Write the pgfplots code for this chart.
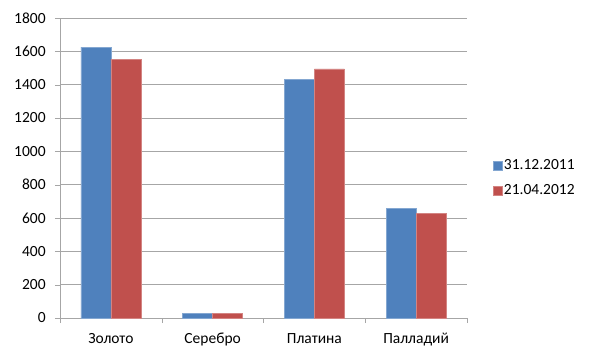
\documentclass[border=0pt]{standalone}
\usepackage{pgfplots}
\pgfplotsset{compat=1.18}
\usepackage{fontspec}
\setmainfont{Carlito}
\definecolor{sblue}{HTML}{4F81BD}
\definecolor{sred}{HTML}{C0504D}
\definecolor{gridg}{HTML}{A6A6A6}
\begin{document}
\fontsize{15.5bp}{18bp}\selectfont
\begin{tikzpicture}[x=1bp,y=1bp]
\path[use as bounding box] (0,0) rectangle (600,360);
\begin{axis}[
  at={(60bp,42bp)}, anchor=south west,
  scale only axis, width=407bp, height=300bp,
  ybar=0pt, bar width=30bp,
  xmin=-0.5, xmax=3.5, ymin=0, ymax=1800,
  ytick={0,200,...,1800},
  xtick={0,1,2,3},
  xticklabels={Золото,Серебро,Платина,Палладий},
  minor xtick={-0.5,0.5,1.5,2.5,3.5},
  major x tick style={draw=none},
  minor x tick style={gridg},
  tick align=outside,
  minor tick length=5bp,
  major tick length=5bp,
  y tick style={gridg},
  ymajorgrids, grid style={gridg, line width=0.8bp},
  axis x line*=bottom, axis y line*=left,
  axis line style={gridg, line width=0.8bp, -},
  /pgf/number format/assume math mode=true,
  /pgf/number format/1000 sep={},
  ticklabel style={font=\fontsize{15.5bp}{18bp}\selectfont, text=black},
  xticklabel style={yshift=-5bp},
  yticklabel style={xshift=-4bp},
  legend style={draw=none, at={(1.055,0.467)}, anchor=west,
    font=\fontsize{15.5bp}{18bp}\selectfont, row sep=9bp,
    legend cell align=left},
  legend image code/.code={\fill[#1] (0bp,-4.5bp) rectangle (9bp,4.5bp);},
  clip=false,
]
\addplot[fill=sblue, draw=sblue!70!white] coordinates {(0,1625) (1,28) (2,1430) (3,656)};
\addplot[fill=sred, draw=sred!70!white] coordinates {(0,1553) (1,29) (2,1495) (3,628)};
\legend{31.12.2011,21.04.2012}
\end{axis}
\end{tikzpicture}
\end{document}
